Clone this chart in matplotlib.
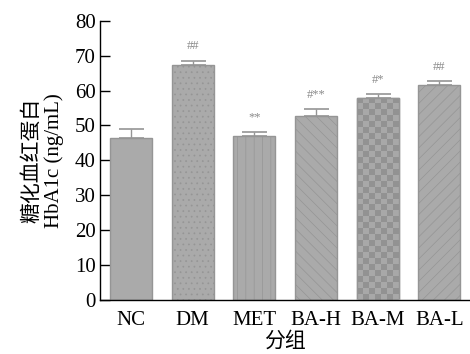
import matplotlib
matplotlib.use("Agg")
import matplotlib.pyplot as plt
import numpy as np
from matplotlib.colors import ListedColormap

categories = ["NC", "DM", "MET", "BA-H", "BA-M", "BA-L"]
means = [46.3, 67.3, 47.1, 52.8, 57.9, 61.6]
errors = [2.8, 1.3, 1.1, 1.8, 1.0, 1.1]
marks = ["", "##", "**", "#**", "#*", "##"]
hatches = [None, "...", "||", "\\\\\\", None, "///"]
yticks = [0, 10, 20, 30, 40, 50, 60, 70, 80]

plt.rcParams["font.family"] = ["Liberation Serif", "Noto Sans CJK SC"]
plt.rcParams["hatch.linewidth"] = 0.5

fig = plt.figure(figsize=(4.7, 3.54), dpi=100)
ax = fig.add_axes([100/470, 1-300/354, 1-100/470, (300-20.7)/354])

x = np.arange(len(categories))
fill = "#aaaaaa"
edge = "#959595"
bars = ax.bar(x, means, width=0.68, color=fill, edgecolor=edge, linewidth=1.0, zorder=2)
for b, h in zip(bars, hatches):
    if h:
        b.set_hatch(h)

# checkerboard for BA-M
b = bars[4]
x0, w, h = b.get_x(), b.get_width(), b.get_height()
nx = 7
ny = int(round(h * 3.49 / 6.0))
chk = (np.add.outer(np.arange(ny), np.arange(nx)) % 2).astype(float)
cm = ListedColormap(["#a8a8a8", "#929292"])
im = ax.imshow(chk, extent=(x0, x0 + w, 0, h), aspect="auto", cmap=cm,
               interpolation="nearest", origin="lower", zorder=2.5)
im.set_clip_path(b)
ax.bar([x[4]], [means[4]], width=0.68, color="none", edgecolor=edge, linewidth=1.0, zorder=3)

ax.errorbar(x, means, yerr=[np.zeros(len(means)), errors], fmt="none",
            ecolor="#959595", elinewidth=1.0, capsize=9, capthick=1.2, zorder=4)

for xi, m, e, t in zip(x, means, errors, marks):
    if t:
        ax.text(xi, m + e + 2.3, t, ha="center", va="bottom", fontsize=9, color="#8a8a8a")

ax.set_xlim(-0.505, 5.5)
ax.set_ylim(0, 80)
ax.set_yticks(yticks)
ax.set_xticks(x)
ax.set_xticklabels(categories)
ax.tick_params(axis="y", direction="in", length=7, width=1, labelsize=15, pad=3)
ax.tick_params(axis="x", length=0, labelsize=15, pad=8)
for s in ["top", "right"]:
    ax.spines[s].set_visible(False)
for s in ["left", "bottom"]:
    ax.spines[s].set_linewidth(1.0)

ax.set_xlabel("分组", fontsize=15, labelpad=1)
ax.set_ylabel("糖化血红蛋白\nHbA1c (ng/mL)", fontsize=15, linespacing=1.1, labelpad=8)

fig.savefig("out.png", dpi=100)
